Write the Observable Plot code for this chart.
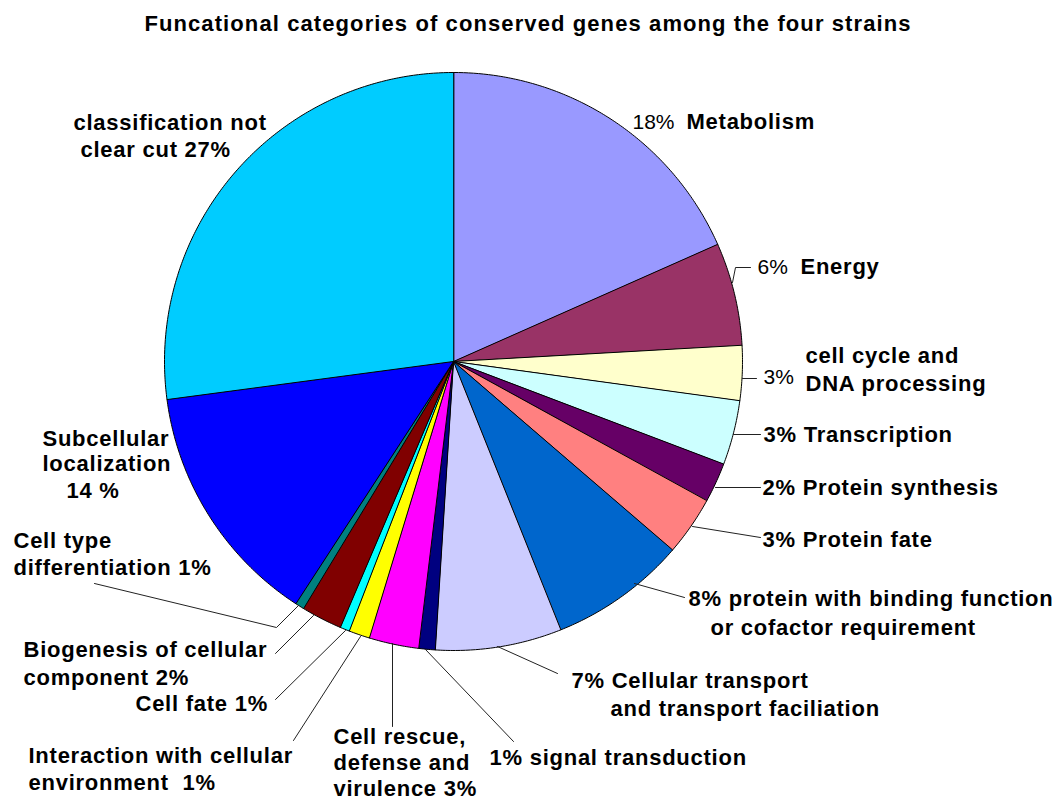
<!DOCTYPE html>
<html>
<head>
<meta charset="utf-8">
<script src="https://cdn.jsdelivr.net/npm/d3@7"></script>
<script src="https://cdn.jsdelivr.net/npm/@observablehq/plot@0.6"></script>
<style>
  html, body { margin: 0; padding: 0; background: #fff; }
  #wrap { width: 1056px; height: 801px; position: relative; overflow: hidden; }
  #title { height: 35px; padding-top: 5px; line-height: 37px; text-align: center; width: 1056px;
           font-family: "Liberation Sans", Arial, sans-serif; font-weight: bold; font-size: 22px;
           letter-spacing: 1.1px; color: #000; white-space: nowrap; }
</style>
</head>
<body>
<div id="wrap">
  <div id="title">Funcational categories of conserved genes among the four strains</div>
  <div id="chart"></div>
</div>
<script>
// ---- data, clockwise from 12 o'clock ----
const categories = [
  "Metabolism", "Energy", "cell cycle and DNA processing", "Transcription",
  "Protein synthesis", "Protein fate", "protein with binding function or cofactor requirement",
  "Cellular transport and transport faciliation", "signal transduction",
  "Cell rescue, defense and virulence", "Interaction with cellular environment",
  "Cell fate", "Biogenesis of cellular component", "Cell type differentiation",
  "Subcellular localization", "classification not clear cut"
];
const shares = [18.36, 5.75, 3.06, 3.61, 2.22, 3.31, 7.64, 7.06, 0.92, 2.78, 1.17, 0.53, 2.28, 0.50, 13.72, 27.11];
const sliceColors = [
  "#9999FF", "#993366", "#FFFFCC", "#CCFFFF", "#660066", "#FF8080", "#0066CC", "#CCCCFF",
  "#000080", "#FF00FF", "#FFFF00", "#00FFFF", "#800000", "#008080", "#0000FF", "#00CCFF"
];
const labelTexts = [
  "18%", "Metabolism", "6%", "Energy", "3%", "cell cycle and", "DNA processing",
  "3% Transcription", "2% Protein synthesis", "3% Protein fate",
  "8% protein with binding function", "or cofactor requirement",
  "7% Cellular transport", "and transport faciliation", "1% signal transduction",
  "Cell rescue,", "defense and", "virulence 3%",
  "Interaction with cellular", "environment\u00a0 1%", "Cell fate 1%",
  "Biogenesis of cellular", "component 2%", "Cell type", "differentiation 1%",
  "Subcellular", "localization", "14 %", "classification not", "clear cut 27%"
];

// ---- layout (page pixels) ----
const W = 1056, H = 801, TOP = 40;
const cx = 453, cy = 361, R = 289;
// [x, baseline, bold]
const labelLayout = [
  [632, 129, 0], [686, 129, 1], [757, 274, 0], [800, 274, 1], [763, 384, 0], [805, 363, 1], [805, 391, 1],
  [763, 442, 1], [762, 495, 1], [762, 547, 1],
  [688, 606, 1], [710, 635, 1],
  [571, 688, 1], [610, 716, 1], [489, 765, 1],
  [333, 744, 1], [333, 770, 1], [333, 796, 1],
  [28, 763, 1], [28, 790, 1], [135, 711, 1],
  [23, 657, 1], [23, 685, 1], [13, 548, 1], [13, 575, 1],
  [42, 446, 1], [42, 471, 1], [66, 498, 1], [73, 130, 1], [80, 157, 1]
];
const leaderLayout = [
  [[732, 282], [735, 267], [750, 267]],
  [[742, 378], [756, 378]],
  [[733, 434], [760, 434]],
  [[715, 487], [760, 487]],
  [[692, 526], [760, 537]],
  [[634, 583], [684, 597]],
  [[497, 646], [557, 673]],
  [[425, 649], [513, 741]],
  [[392, 643], [392, 726]],
  [[360, 636], [293, 740]],
  [[345, 630], [275, 699]],
  [[313, 615], [275, 653]],
  [[298, 605], [276, 627], [94, 583]]
];

// ---- build slice outlines from the data ----
const arcs = d3.pie().sort(null).value(d => d)(shares);
const slicePts = [];
arcs.forEach((a, i) => {
  const cat = categories[i], color = sliceColors[i];
  slicePts.push({cat, color, px: cx, py: cy});
  const n = Math.max(2, Math.ceil((a.endAngle - a.startAngle) / (Math.PI / 360)));
  for (let k = 0; k <= n; k++) {
    const t = a.startAngle + (a.endAngle - a.startAngle) * k / n;
    slicePts.push({cat, color, px: cx + R * Math.sin(t), py: cy - R * Math.cos(t)});
  }
});

const leaderPts = [];
leaderLayout.forEach((pts, i) => pts.forEach(([px, py]) => leaderPts.push({id: i, px, py})));

const labels = labelTexts.map((text, i) => ({
  text, px: labelLayout[i][0], py: labelLayout[i][1], bold: labelLayout[i][2] === 1
}));

const chart = Plot.plot({
  width: W,
  height: H - TOP,
  margin: 0,
  x: {type: "linear", domain: [0, W], range: [0, W], axis: null},
  y: {type: "linear", domain: [TOP, H], range: [0, H - TOP], axis: null},
  color: {type: "identity"},
  style: {background: "#fff", fontFamily: "'Liberation Sans', Arial, sans-serif", overflow: "visible"},
  marks: [
    Plot.line(slicePts, {x: "px", y: "py", z: "cat", fill: "color", stroke: "#000", strokeWidth: 1,
      strokeLinejoin: "miter", curve: "linear-closed"}),
    Plot.line(leaderPts, {x: "px", y: "py", z: "id", stroke: "#222", strokeWidth: 1}),
    Plot.text(labels.filter(d => d.bold), {x: "px", y: "py", text: "text", textAnchor: "start",
      lineAnchor: "bottom", dy: -1, fontSize: 22, fontWeight: "bold", fill: "#000"}),
    Plot.text(labels.filter(d => !d.bold), {x: "px", y: "py", text: "text", textAnchor: "start",
      lineAnchor: "bottom", dy: -1, fontSize: 21, fontWeight: "normal", fill: "#000"})
  ]
});
d3.select(chart).selectAll('g[font-weight="bold"] text').style("letter-spacing", "0.75px");
document.getElementById("chart").appendChild(chart);
</script>
</body>
</html>
